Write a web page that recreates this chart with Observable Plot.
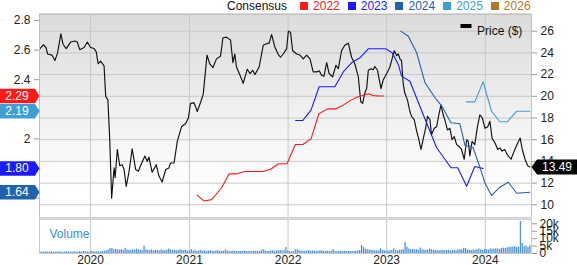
<!DOCTYPE html>
<html>
<head>
<meta charset="utf-8">
<script src="https://cdn.jsdelivr.net/npm/d3@7"></script>
<script src="https://cdn.jsdelivr.net/npm/@observablehq/plot@0.6"></script>
<style>
  html, body { margin: 0; background: #fff; }
  #chart { position: relative; width: 577px; height: 265px; overflow: hidden; font-family: "Liberation Sans", Arial, Helvetica, sans-serif; }
  #chart svg { position: absolute; left: 0; }
  #legend { position: absolute; z-index: 3; top: 0px; left: 227px; height: 12px; line-height: 12px; display: flex; align-items: center; font-size: 12px; white-space: nowrap; color: #111; }
  #legend .sw { display: inline-block; width: 8px; height: 8px; margin-right: 5px; }
  #legend .lab { margin-right: 8px; }
</style>
</head>
<body>
<div id="chart"><div id="legend"></div></div>
<script>
// ---------------- DATA ----------------
const seriesNames = ["2022", "2023", "2024", "2025", "2026"];
const seriesColors = ["#ff1a1a", "#1a1aff", "#2062ae", "#3d9fd2", "#b07a2a"];

const priceSeries = [
  ["2019-06-28",24.4],["2019-07-10",24.75],["2019-07-20",24.5],["2019-07-26",23.9],["2019-08-11",23.8],["2019-08-22",23.3],
  ["2019-09-01",24.0],["2019-09-13",25.75],["2019-09-21",24.8],["2019-10-03",24.4],["2019-10-19",25.0],["2019-11-04",25.1],
  ["2019-11-13",25.0],["2019-11-22",24.3],["2019-12-08",24.5],["2019-12-20",25.0],["2020-01-01",24.5],["2020-01-14",24.4],
  ["2020-01-22",24.1],["2020-01-29",23.0],["2020-02-07",23.25],["2020-02-20",22.8],["2020-02-26",20.0],["2020-03-05",19.7],
  ["2020-03-12",16.0],["2020-03-19",10.6],["2020-03-28",13.4],["2020-04-01",12.5],["2020-04-09",15.1],["2020-04-18",13.6],
  ["2020-04-27",13.7],["2020-05-04",13.25],["2020-05-12",11.7],["2020-05-22",13.0],["2020-06-03",15.15],["2020-06-16",13.25],
  ["2020-06-26",13.1],["2020-07-04",13.6],["2020-07-20",14.5],["2020-07-29",14.0],["2020-08-04",14.4],["2020-08-16",13.0],
  ["2020-08-31",13.7],["2020-09-10",12.65],["2020-09-22",12.1],["2020-10-05",13.25],["2020-10-17",13.4],["2020-10-23",13.85],
  ["2020-11-05",13.85],["2020-11-17",15.85],["2020-12-03",17.2],["2020-12-18",17.5],["2020-12-28",18.0],["2021-01-05",19.35],
  ["2021-01-18",19.4],["2021-01-30",18.6],["2021-02-12",19.5],["2021-02-21",20.2],["2021-03-07",23.8],["2021-03-17",23.0],
  ["2021-03-29",22.65],["2021-04-11",23.45],["2021-04-26",23.7],["2021-05-05",25.4],["2021-05-18",25.45],["2021-06-02",25.2],
  ["2021-06-11",23.1],["2021-06-18",23.9],["2021-06-24",22.7],["2021-07-07",21.95],["2021-07-19",21.2],["2021-08-03",22.5],
  ["2021-08-13",22.1],["2021-08-23",22.4],["2021-08-31",22.0],["2021-09-16",22.7],["2021-10-01",24.7],["2021-10-14",24.85],
  ["2021-10-23",24.9],["2021-11-01",25.7],["2021-11-13",24.55],["2021-11-26",23.85],["2021-12-04",23.6],["2021-12-14",23.9],
  ["2021-12-27",24.4],["2022-01-02",26.0],["2022-01-10",25.9],["2022-01-18",24.2],["2022-02-02",23.9],["2022-02-14",23.8],
  ["2022-02-26",23.45],["2022-03-11",23.8],["2022-03-23",23.45],["2022-04-04",22.25],["2022-04-17",22.25],["2022-04-26",22.35],
  ["2022-05-05",21.95],["2022-05-14",21.85],["2022-05-24",23.1],["2022-06-02",22.1],["2022-06-15",21.8],["2022-06-27",22.85],
  ["2022-07-06",22.55],["2022-07-18",24.2],["2022-07-30",24.7],["2022-08-12",24.9],["2022-08-24",23.6],["2022-09-05",23.0],
  ["2022-09-18",21.8],["2022-09-27",19.5],["2022-10-04",19.35],["2022-10-12",20.3],["2022-10-19",20.75],["2022-10-25",22.4],
  ["2022-11-04",22.55],["2022-11-12",22.45],["2022-11-18",22.75],["2022-11-28",22.4],["2022-12-11",20.7],["2022-12-19",21.5],
  ["2023-01-01",22.1],["2023-01-13",22.7],["2023-01-21",23.45],["2023-01-29",24.2],["2023-02-07",23.75],["2023-02-13",23.9],
  ["2023-02-19",23.45],["2023-02-25",23.3],["2023-03-03",21.2],["2023-03-09",20.3],["2023-03-19",19.65],["2023-03-28",18.6],
  ["2023-04-03",18.15],["2023-04-13",17.85],["2023-04-22",16.8],["2023-04-30",16.0],["2023-05-08",15.1],["2023-05-16",16.05],
  ["2023-05-25",17.05],["2023-06-01",18.15],["2023-06-10",17.85],["2023-06-16",16.45],["2023-06-26",17.05],["2023-07-05",17.2],
  ["2023-07-13",18.3],["2023-07-21",19.2],["2023-07-29",18.3],["2023-08-04",17.85],["2023-08-14",16.9],["2023-08-23",17.05],
  ["2023-08-31",16.0],["2023-09-08",16.3],["2023-09-17",15.55],["2023-09-25",15.4],["2023-10-05",15.1],["2023-10-15",14.2],
  ["2023-10-24",16.0],["2023-10-30",15.85],["2023-11-05",14.5],["2023-11-13",15.85],["2023-11-23",15.55],["2023-12-03",17.2],
  ["2023-12-12",18.3],["2023-12-21",18.0],["2023-12-31",17.05],["2024-01-10",17.2],["2024-01-18",17.7],["2024-01-26",16.15],
  ["2024-02-06",15.7],["2024-02-16",15.1],["2024-02-24",15.25],["2024-03-03",14.95],["2024-03-13",15.1],["2024-03-23",14.6],
  ["2024-04-05",14.2],["2024-04-17",14.95],["2024-04-30",15.7],["2024-05-09",16.15],["2024-05-17",15.1],["2024-05-27",14.2],
  ["2024-06-06",13.6],["2024-06-14",13.49]
];

const consensus2022 = [
  ["2021-01-30",1.62],["2021-02-24",1.58],["2021-03-24",1.59],["2021-04-30",1.67],["2021-05-28",1.764],["2021-06-24",1.764],
  ["2021-07-25",1.78],["2021-10-01",1.78],["2021-10-30",1.797],["2021-11-26",1.832],["2021-12-28",1.832],["2022-01-28",1.962],
  ["2022-02-25",1.962],["2022-03-27",2.0],["2022-04-25",2.17],["2022-05-27",2.203],["2022-06-27",2.203],["2022-07-24",2.228],
  ["2022-08-22",2.262],["2022-09-17",2.285],["2022-10-02",2.293],["2022-10-25",2.305],["2022-11-12",2.293],["2022-11-30",2.29],
  ["2022-12-21",2.29]
];
const consensus2023 = [
  ["2022-01-29",2.124],["2022-02-24",2.124],["2022-03-27",2.194],["2022-04-26",2.352],["2022-06-23",2.352],["2022-07-26",2.457],
  ["2022-08-24",2.514],["2022-09-24",2.548],["2022-10-25",2.609],["2022-12-28",2.609],["2023-01-21",2.582],["2023-02-13",2.503],
  ["2023-02-25",2.424],["2023-03-28",2.39],["2023-05-16",2.165],["2023-07-05",1.94],["2023-08-27",1.805],["2023-09-21",1.805],
  ["2023-10-24",1.68],["2023-11-23",1.814],["2023-12-24",1.80]
];
const consensus2024 = [
  ["2023-02-22",2.728],["2023-03-22",2.694],["2023-04-22",2.582],["2023-05-23",2.379],["2023-06-29",2.278],["2023-07-24",2.221],
  ["2023-08-27",2.109],["2023-09-29",2.102],["2023-10-18",1.955],["2023-11-16",1.944],["2023-12-12",1.809],["2023-12-31",1.70],
  ["2024-01-24",1.618],["2024-02-24",1.674],["2024-03-26",1.707],["2024-04-26",1.633],["2024-06-14",1.64]
];
const consensus2025 = [
  ["2023-10-24",2.25],["2023-11-23",2.25],["2023-12-24",2.386],["2024-01-24",2.187],["2024-02-24",2.116],["2024-03-23",2.116],
  ["2024-04-26",2.187],["2024-06-14",2.187]
];
const consensus2026 = [];

const priceTicks = [10, 12, 14, 16, 18, 20, 22, 24, 26];
const consensusTicks = [1.6, 1.8, 2, 2.2, 2.4, 2.6, 2.8];
const consensusTickLabels = ["", "", "2", "", "2.4", "2.6", "2.8"];   // others sit under the value tags
const volumeTicks = [0, 5, 10, 15, 20];          // thousands
const volumeTickLabels = ["0", "5k", "10k", "15k", "20k"];
const yearTickLabels = ["2020", "2021", "2022", "2023", "2024"];

// weekly volume (thousands of shares), first week ending 2019-06-28
const volumeStart = "2019-06-28";
const volumeWeekly = [
  0.9,1.0,0.8,1.1,0.9,1.0,1.2,0.8,0.9,1.0,1.1,0.9,0.8,1.0,1.2,0.9,1.0,0.8,1.1,1.0,0.9,1.3,1.0,1.5,1.2,1.0,0.9,
  1.5,1.1,1.0,1.2,1.0,1.1,1.3,1.4,1.8,2.2,3.2,3.4,2.6,2.8,2.4,2.2,2.6,2.0,3.6,2.4,2.2,2.0,2.6,2.2,3.0,2.4,
  2.2,2.0,4.9,2.6,2.2,2.0,2.4,1.8,2.2,2.0,1.8,2.4,2.0,1.8,2.2,3.0,2.4,2.0,2.2,1.8,2.0,2.6,2.0,1.8,2.2,1.6,
  1.8,2.6,1.6,1.8,1.4,1.6,2.0,1.5,1.8,1.4,1.6,1.8,1.5,1.4,1.6,1.8,1.5,1.4,1.6,2.5,1.6,1.5,1.4,1.6,1.5,1.4,
  1.3,1.5,1.4,1.6,1.3,1.4,1.5,1.3,1.6,1.4,1.5,1.3,1.8,2.5,1.6,1.4,1.5,1.6,1.8,1.5,1.6,1.8,2.0,1.6,1.8,4.0,1.6,
  1.2,1.1,1.3,2.4,2.6,1.8,1.6,1.5,1.4,1.6,1.8,1.5,1.6,1.7,1.5,1.4,1.8,1.6,1.5,1.4,1.6,1.4,1.5,2.6,1.3,1.4,
  1.4,1.5,1.3,1.6,1.4,1.5,1.3,1.4,1.3,1.5,1.6,2.0,5.5,4.0,2.8,2.6,2.4,2.2,2.0,1.8,1.6,1.8,3.3,2.0,1.8,1.6,
  1.6,1.8,2.0,3.0,2.0,1.8,2.2,2.4,2.6,7.3,4.2,3.0,2.6,2.8,2.4,2.6,2.2,3.7,2.6,2.4,2.2,2.4,3.0,2.6,2.2,2.0,
  2.0,1.8,2.2,2.0,1.8,2.0,2.2,1.8,2.0,2.2,1.8,2.4,2.6,2.6,3.5,3.3,2.4,2.2,2.0,2.4,2.2,2.6,3.0,2.4,2.2,2.6,
  2.6,2.4,3.0,2.8,3.0,3.2,3.0,2.8,3.4,3.6,3.4,3.8,4.0,4.2,4.4,4.6,4.0,4.2,21.5,6.7,4.5,5.0,4.0,5.2
];

// ---------------- BUILD ----------------
const parse = d3.utcParse("%Y-%m-%d");
const rows = arr => arr.map(([d, v]) => ({date: parse(d), value: v}));
const priceRows = rows(priceSeries);
const consensusRows = [consensus2022, consensus2023, consensus2024, consensus2025, consensus2026].map(rows);
const volStart = parse(volumeStart);
const volRows = volumeWeekly.map((v, i) => ({date: d3.utcDay.offset(volStart, 7 * i), value: v}));
const yearTicks = yearTickLabels.map(y => parse(y + "-01-01"));
const xDomain = [parse("2019-06-26"), parse("2024-06-20")];
const priceDomain = [8.83, 27.54];

// background shading bands (top grey -> bottom white), derived from the y domain
const nBands = 40;
const shade = d3.interpolateRgb("#dcdcdc", "#ffffff");
const bgBands = d3.range(nBands).map(i => {
  const t0 = i / nBands, t1 = (i + 1) / nBands;
  const span = priceDomain[1] - priceDomain[0];
  return {
    x1: xDomain[0], x2: xDomain[1],
    y1: priceDomain[1] - t1 * span, y2: priceDomain[1] - t0 * span,
    fill: d3.color(shade(Math.min(1, t0 / 0.85))).formatHex()
  };
});

const FONT = '"Liberation Sans", Arial, Helvetica, sans-serif';
const W = 577, ML = 39, MR = 46;
const GRID = "#c8c8c8";
const baseStyle = () => ({background: "none", fontFamily: FONT, fontSize: "12px", color: "#222", overflow: "visible"});

// custom shapes
const leftTag = {draw(ctx) { ctx.moveTo(-40, -7.2); ctx.lineTo(-4.5, -7.2); ctx.lineTo(0, 0); ctx.lineTo(-4.5, 7.2); ctx.lineTo(-40, 7.2); ctx.closePath(); }};
const rightTag = {draw(ctx) { ctx.moveTo(0, 0); ctx.lineTo(5.5, -7.5); ctx.lineTo(46, -7.5); ctx.lineTo(46, 7.5); ctx.lineTo(5.5, 7.5); ctx.closePath(); }};
const legendBar = {draw(ctx) { ctx.rect(-5.5, -2, 11, 4); }};

const lastPrice = priceRows[priceRows.length - 1];

// Panel A: price (right axis), grid
const svgA = Plot.plot({
  width: W, height: 219,
  marginTop: 14, marginBottom: 2, marginLeft: ML, marginRight: MR,
  style: baseStyle(),
  x: {type: "utc", domain: xDomain, axis: null},
  y: {domain: priceDomain, axis: null},
  marks: [
    Plot.frame({fill: "#f3f3f3", stroke: null}),
    ...bgBands.map(b => Plot.rect([b], {x1: "x1", x2: "x2", y1: "y1", y2: "y2", fill: b.fill, shapeRendering: "crispEdges", insetTop: -0.6})),
    Plot.gridY(priceTicks, {stroke: GRID, strokeOpacity: 1}),
    Plot.gridX(yearTicks, {stroke: GRID, strokeOpacity: 1}),
    Plot.axisY(priceTicks, {anchor: "right", tickSize: 5, tickPadding: 4, label: null, stroke: "#999", fill: "#222"}),
    Plot.line(priceRows, {x: "date", y: "value", stroke: "#111", strokeWidth: 1.15}),
    Plot.frame({stroke: "#c0c0c0"}),
    Plot.dot([lastPrice], {y: "value", frameAnchor: "right", symbol: rightTag, fill: "#000", r: 3}),
    Plot.text([lastPrice], {y: "value", frameAnchor: "right", dx: 25.5, textAnchor: "middle", text: d => d.value.toFixed(2), fill: "#fff", fontSize: 12}),
    Plot.dot(["Price ($)"], {frameAnchor: "top-right", dx: -65.5, dy: 11.5, symbol: legendBar, fill: "#000", r: 3}),
    Plot.text(["Price ($)"], {frameAnchor: "top-right", dx: -54.5, dy: 11.5, textAnchor: "start", fill: "#111", fontSize: 12})
  ]
});

// Panel B: consensus (left axis)
const tagRows = [0, 3, 1, 2].map(i => {
  const r = consensusRows[i];
  return {name: seriesNames[i], color: seriesColors[i], value: r[r.length - 1].value};
});
const svgB = Plot.plot({
  width: W, height: 219,
  marginTop: 14, marginBottom: 2, marginLeft: ML, marginRight: MR,
  style: baseStyle(),
  x: {type: "utc", domain: xDomain, axis: null},
  y: {domain: [1.469, 2.8405], axis: null},
  marks: [
    Plot.axisY(consensusTicks, {anchor: "left", tickSize: 5, tickPadding: 4, tickFormat: (d, i) => consensusTickLabels[i], label: null, stroke: "#999", fill: "#222"}),
    ...consensusRows.map((r, i) => Plot.line(r, {x: "date", y: "value", stroke: seriesColors[i], strokeWidth: 1.1})),
    ...tagRows.map(t => Plot.dot([t], {y: "value", frameAnchor: "left", symbol: leftTag, fill: t.color, r: 3})),
    ...tagRows.map(t => Plot.text([t], {y: "value", frameAnchor: "left", dx: -22.5, textAnchor: "middle", text: d => d.value.toFixed(2), fill: "#fff", fontSize: 12}))
  ]
});

// Panel C: volume
const svgC = Plot.plot({
  width: W, height: 48,
  marginTop: 2, marginBottom: 12, marginLeft: ML, marginRight: MR,
  style: baseStyle(),
  x: {type: "utc", domain: xDomain, axis: null},
  y: {domain: [0, 22.9], axis: null},
  marks: [
    Plot.gridX(yearTicks, {stroke: GRID, strokeOpacity: 1}),
    Plot.ruleX(volRows, {x: "date", y1: 0, y2: "value", stroke: "#4f93d4", strokeWidth: 1.3}),
    Plot.frame({stroke: "#c8c8c8"}),
    Plot.ruleY([22.9], {stroke: "#d8d8d8", strokeWidth: 2.6, dy: -1}),
    Plot.axisY(volumeTicks, {anchor: "right", tickSize: 5, tickPadding: 3, tickFormat: (d, i) => volumeTickLabels[i], label: null, stroke: "#999", fill: "#222"}),
    Plot.axisX(yearTicks, {anchor: "bottom", tickSize: 0, tickPadding: 2, tickFormat: (d, i) => yearTickLabels[i], label: null, fill: "#222"}),
    Plot.text(["Volume"], {frameAnchor: "top-left", dx: 10, dy: 9.5, textAnchor: "start", fill: "#3a8fd6", fontSize: 12})
  ]
});

const chart = document.getElementById("chart");
svgA.style.top = "0px";
svgB.style.top = "0px";
svgC.style.top = "217px";
chart.append(svgA, svgB, svgC);

// Legend (top)
const legend = document.getElementById("legend");
const head = document.createElement("span");
head.textContent = "Consensus";
head.style.marginRight = "13px";
legend.append(head);
seriesNames.forEach((n, i) => {
  const sw = document.createElement("span");
  sw.className = "sw"; sw.style.background = seriesColors[i];
  const lab = document.createElement("span");
  lab.className = "lab"; lab.textContent = n; lab.style.color = seriesColors[i];
  legend.append(sw, lab);
});
</script>
</body>
</html>
